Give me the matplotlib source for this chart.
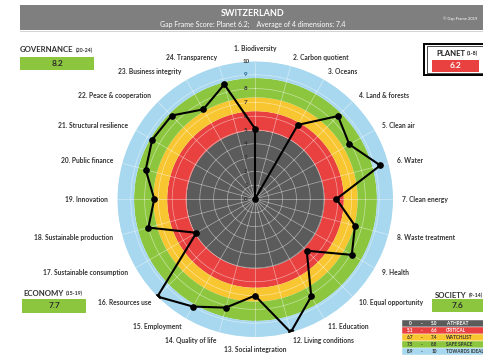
import numpy as np
import matplotlib
matplotlib.use("Agg")
import matplotlib.pyplot as plt
from matplotlib.patches import Rectangle
from matplotlib import transforms

plt.rcParams['font.family'] = ['Lato', 'DejaVu Sans']

# ---- data ----
categories = [
    "1. Biodiversity", "2. Carbon quotient", "3. Oceans", "4. Land & forests",
    "5. Clean air", "6. Water", "7. Clean energy", "8. Waste treatment",
    "9. Health", "10. Equal opportunity", "11. Education", "12. Living conditions",
    "13. Social integration", "14. Quality of life", "15. Employment",
    "16. Resources use", "17. Sustainable consumption", "18. Sustainable production",
    "19. Innovation", "20. Public finance", "21. Structural resilience",
    "22. Peace & cooperation", "23. Business integrity", "24. Transparency",
]
scores = [5.1, 0.0, 6.2, 8.5, 7.9, 9.4, 5.9, 7.5, 8.1, 5.3, 8.15, 10.0,
          7.0, 8.15, 9.0, 10.0, 4.9, 8.0, 7.3, 8.2, 8.6, 8.55, 7.5, 8.6]

band_edges = [0, 5.0, 6.4, 7.4, 8.8, 10.0]
band_colors = ["#5b5b5b", "#e8413f", "#f8c630", "#8cc63f", "#a8d8ef"]
legend_low = ["0", "5.1", "6.7", "7.5", "8.9"]
legend_high = ["5.0", "6.6", "7.4", "8.8", "10"]
legend_names = ["A THREAT", "CRITICAL", "WATCHLIST", "SAFE SPACE", "TOWARDS IDEAL"]
legend_text_colors = ["white", "white", "#333333", "#333333", "#333333"]

dimensions = [
    # name, range, score, x0, y_title, box (x0, y0, x1, y1)
    ("GOVERNANCE", "(20-24)", "8.2", 20, 50, (20, 57, 94, 70)),
    ("ECONOMY", "(15-19)", "7.7", 23, 293, (22, 299, 86, 313)),
    ("SOCIETY", "(9-14)", "7.6", 435, 295, (432, 299, 486, 312)),
]
planet_score = "6.2"
title = "SWITZERLAND"
subtitle = "Gap Frame Score: Planet 6.2;    Average of 4 dimensions: 7.4"

# ---- figure ----
W, H = 483, 359
fig = plt.figure(figsize=(W / 100, H / 100), dpi=100)
fig.patch.set_facecolor("white")


def fx(x):
    return x / W


def fy(y):
    return 1 - y / H


def rect(x0, y0, x1, y1, **kw):
    fig.add_artist(Rectangle((fx(x0), fy(y1)), fx(x1) - fx(x0), fy(y0) - fy(y1),
                             transform=fig.transFigure, **kw))


# header banner
rect(20, 5, 490, 30, facecolor="#7f7f7f", edgecolor="none")
rect(20, 30.5, 490, 32, facecolor="#d4d4d4", edgecolor="none")
fig.text(fx(253), fy(13), title, color="white", fontsize=6.5, fontweight="bold",
         ha="center", va="center")
fig.text(fx(253), fy(24.5), subtitle, color="white", fontsize=5.0,
         ha="center", va="center")
fig.text(fx(443), fy(19), "\u00a9 Gap Frame 2019", color="white", fontsize=3.0,
         ha="left", va="center")

# radar
cx, cy, R = 255, 199, 138
ax = fig.add_axes([fx(cx - R), fy(cy + R), 2 * R / W, 2 * R / H], projection="polar")
ax.set_theta_zero_location("N")
ax.set_theta_direction(-1)
ax.set_ylim(0, 10)
ax.axis("off")

tt = np.linspace(0, 2 * np.pi, 400)
for lo, hi, c in zip(band_edges[:-1], band_edges[1:], band_colors):
    ax.fill_between(tt, lo, hi, color=c, lw=0, zorder=1)

n = len(categories)
angles = np.arange(n) * 2 * np.pi / n
for a in angles:
    ax.plot([a, a], [0, 10], color="white", lw=0.5, alpha=0.5, zorder=2)
for r in range(1, 10):
    ax.plot(tt, np.full_like(tt, r), color="white", lw=0.5, alpha=0.5, zorder=2)

# radial scale numbers
off = transforms.offset_copy(ax.transData, fig=fig, x=-9, y=0, units="dots")
for r in range(0, 11):
    col = "#1f5f8b" if r == 9 else "#333333"
    ax.text(0, r, str(r), transform=off, fontsize=4.5, fontweight="bold",
            color=col, ha="center", va="center", zorder=3)

# score polygon
closed_a = np.append(angles, angles[0])
closed_v = np.append(scores, scores[0])
ax.plot(closed_a, closed_v, color="black", lw=1.5, zorder=4)
ax.plot(angles, scores, "o", color="black", ms=3.8, zorder=5)

# category labels
for a, lab in zip(angles, categories):
    s, c = np.sin(a), np.cos(a)
    ha = "left" if s > 0.1 else ("right" if s < -0.1 else "center")
    va = "center"
    if abs(s) <= 0.1:
        va = "bottom" if c > 0 else "top"
    ax.text(a, 10.65, lab, fontsize=4.8, fontweight="bold", color="#333333",
            ha=ha, va=va, zorder=3, clip_on=False)

# dimension boxes
for name, rng, val, tx, ty, (x0, y0, x1, y1) in dimensions:
    t = fig.text(fx(tx), fy(ty), name, fontsize=5.6, fontweight="bold",
                 color="#333333", ha="left", va="center")
    fig.canvas.draw()
    bb = t.get_window_extent()
    fig.text(bb.x1 / W + 0.004, fy(ty) - 0.002, rng, fontsize=3.8, fontweight="bold",
             color="#333333", ha="left", va="center")
    rect(x0, y0, x1, y1, facecolor="#8cc63f", edgecolor="none")
    fig.text(fx((x0 + min(x1, 483)) / 2), fy((y0 + y1) / 2), val, fontsize=6,
             fontweight="bold", color="#2b2b2b", ha="center", va="center")

# planet box
rect(424, 44, 490, 75, facecolor="white", edgecolor="black", lw=1.4)
rect(426.5, 46.5, 490, 72.5, facecolor="none", edgecolor="black", lw=0.5)
t = fig.text(fx(436), fy(53), "PLANET", fontsize=5.6, fontweight="bold",
             color="#222222", ha="left", va="center")
fig.canvas.draw()
bb = t.get_window_extent()
fig.text(bb.x1 / W + 0.004, fy(53) - 0.002, "(1-8)", fontsize=3.8, fontweight="bold",
         color="#222222", ha="left", va="center")
rect(432, 60, 479, 72, facecolor="#e8413f", edgecolor="none")
fig.text(fx(455.5), fy(66), planet_score, fontsize=6, fontweight="bold",
         color="white", ha="center", va="center")

# colour legend
row_h = 7
for i, (lo, hi, name, tc, bc) in enumerate(zip(legend_low, legend_high, legend_names,
                                                legend_text_colors, band_colors)):
    y0 = 320 + i * row_h
    rect(402, y0, 490, y0 + row_h, facecolor=bc, edgecolor="white", lw=0.3)
    yc = fy(y0 + row_h / 2)
    kw = dict(fontsize=3.3, fontweight="bold", color=tc, va="center")
    fig.text(fx(410), yc, lo, ha="center", **kw)
    fig.text(fx(422), yc, "-", ha="center", **kw)
    fig.text(fx(434), yc, hi, ha="center", **kw)
    fig.text(fx(446), yc, name, ha="left", **kw)

fig.savefig("out.png", dpi=100)
